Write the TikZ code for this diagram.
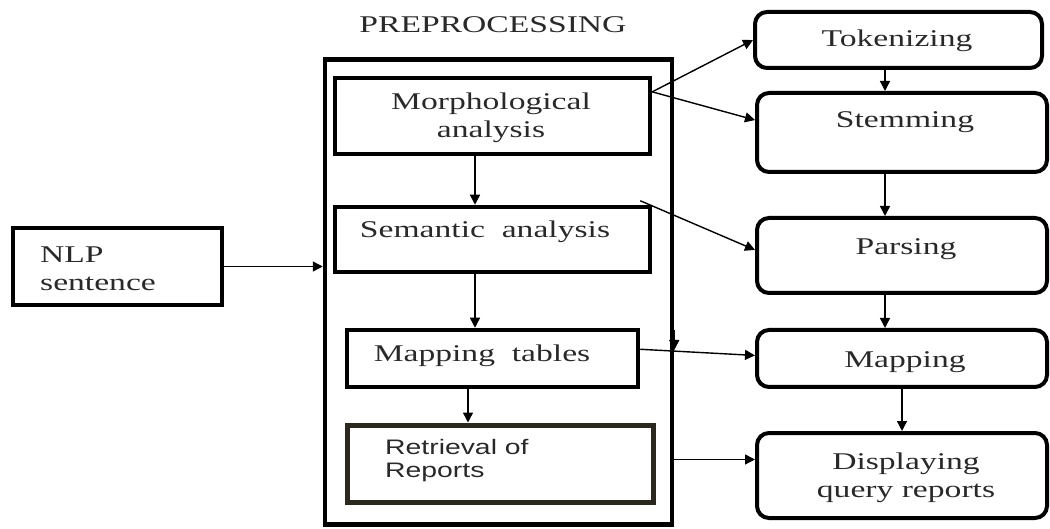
\documentclass[tikz,border=0pt]{standalone}
\usepackage{fontspec}
\setmainfont{Liberation Serif}[FakeStretch=1.4]
\newfontfamily\retrfont{Liberation Sans}[FakeStretch=1.35]
\usetikzlibrary{arrows.meta,calc}
\definecolor{txt}{rgb}{0.16,0.16,0.16}
\definecolor{retrborder}{rgb}{0.17,0.16,0.12}
\tikzset{
  sqbox/.style={draw=black,line width=4.5pt,inner sep=0pt,minimum width=#1},
  rbox/.style={draw=black,line width=4pt,rounded corners=12pt,inner sep=0pt},
  lbl/.style={text=txt,inner sep=0pt,font=\fontsize{24}{28}\selectfont},
  arr/.style={-{Triangle[length=10pt,width=10pt]},line width=1.4pt,black},
}
\begin{document}
\begin{tikzpicture}[x=1pt,y=-1pt]
\useasboundingbox (0,0) rectangle (1050,529);
% left / middle boxes
\node[sqbox=347pt,minimum height=465pt] (outer) at (498.5,292) {};
\node[sqbox=315pt,minimum height=76pt] (morph) at (492.5,116) {};
\node[sqbox=315pt,minimum height=65pt] (sem) at (492.5,239.5) {};
\node[sqbox=291pt,minimum height=57pt] (maptab) at (492.5,358.5) {};
\node[sqbox=306pt,minimum height=77pt,draw=retrborder,line width=5pt] (retr) at (500,463.5) {};
\node[sqbox=209pt,minimum height=77pt] (nlp) at (117.5,266.5) {};
% right boxes
\node[rbox,minimum width=287pt,minimum height=56pt] (tok) at (898.5,40) {};
\node[rbox,minimum width=290pt,minimum height=79pt] (stem) at (902,132.5) {};
\node[rbox,minimum width=290pt,minimum height=75pt] (pars) at (902,255.5) {};
\node[rbox,minimum width=290pt,minimum height=57pt] (map) at (902,358.5) {};
\node[rbox,minimum width=290pt,minimum height=85pt] (disp) at (902,475.5) {};
% texts
\node[lbl,anchor=base] (tpre) at (493,33) {PREPROCESSING};
\node[lbl,align=center] (tmorph) at (491,117.5) {Morphological\\analysis};
\node[lbl,anchor=base] (tsem) at (485,238) {Semantic\ \ analysis};
\node[lbl,anchor=base] (tmaptab) at (482,362) {Mapping\ \ tables};
\node[lbl,align=left,anchor=west,font=\retrfont\fontsize{21}{23}\selectfont] (tretr) at (385,461) {Retrieval of\\Reports};
\node[lbl,align=left,anchor=west] (tnlp) at (40,269) {NLP\\sentence};
\node[lbl,anchor=base] (ttok) at (897,47) {Tokenizing};
\node[lbl,anchor=base] (tstem) at (905,128) {Stemming};
\node[lbl,anchor=base] (tpars) at (906,255) {Parsing};
\node[lbl,anchor=base] (tmap) at (905,367) {Mapping};
\node[lbl,align=center] (tdisp) at (906,478) {Displaying\\query reports};
% connectors
\draw[arr] (nlp.east) -- (nlp.east -| outer.west);
\draw[arr] (475,0 |- morph.south) -- (475,0 |- sem.north);
\draw[arr] (475,0 |- sem.south) -- (475,0 |- maptab.north);
\draw[arr] (468,0 |- maptab.south) -- (468,0 |- retr.north);
\coordinate (mstart) at ($(morph.north east)!0.2!(morph.south east)$);
\draw[arr] (mstart) -- (tok.west);
\draw[arr] (mstart) -- ($(stem.north west)!0.35!(stem.south west)$);
\draw[arr] ($(sem.north east)+(-12,-4)$) -- ($(pars.north west)!0.43!(pars.south west)$);
\draw[arr] ($(maptab.north east)!0.35!(maptab.south east)$) -- ($(map.north west)!0.45!(map.south west)$);
\coordinate (dend) at ($(disp.north west)!0.32!(disp.south west)$);
\draw[arr] (dend -| outer.east) -- (dend);
\draw[arr] (outer.east |- 0,330) -- (outer.east |- 0,350);
\draw[arr] (885,0 |- tok.south) -- (885,0 |- stem.north);
\draw[arr] (885,0 |- stem.south) -- (885,0 |- pars.north);
\draw[arr] (885,0 |- pars.south) -- (885,0 |- map.north);
\draw[arr] (902,0 |- map.south) -- (902,0 |- disp.north);
\end{tikzpicture}
\end{document}
